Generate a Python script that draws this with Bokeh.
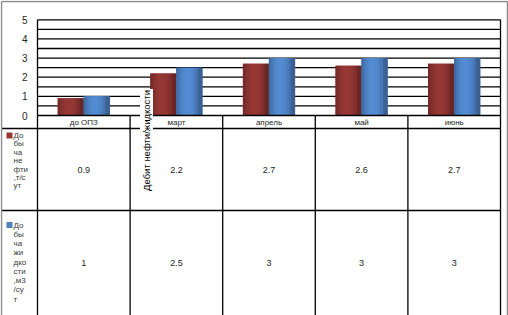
import math
import numpy as np
from bokeh.plotting import figure
from bokeh.models import Range1d
from bokeh.core.properties import value
from bokeh.embed import file_html
from bokeh.resources import INLINE

# ---------------- data ----------------
categories = ["до ОПЗ", "март", "апрель", "май", "июнь"]
oil_values = [0.9, 2.2, 2.7, 2.6, 2.7]        # Добыча нефти, т/сут
liquid_values = [1, 2.5, 3, 3, 3]             # Добыча жидкости, м3/сут
series_names = ["Добыча нефти,т/сут", "Добыча жидкости,м3/сут"]
series_wrapped = [["До", "бы", "ча", "не", "фти", ",т/с", "ут"],
                  ["До", "бы", "ча", "жи", "дко", "сти", ",м3", "/су", "т"]]
y_ticks = [0, 1, 2, 3, 4, 5]
y_title = "Дебит нефти/жидкости"

# ---------------- layout constants (pixels) ----------------
W, H = 508, 315
X0, XW = 37.0, 92.6      # pixel of category axis start, pixels per category
Y0, YU = 115.0, 19.14    # pixel of value 0, pixels per unit
ROW1_TOP, ROW2_TOP, TBL_BOTTOM = 128.0, 210.0, 316.0

def px2x(px):
    return (px - X0) / XW

def py2y(py):
    return (Y0 - py) / YU

FONT = value("Liberation Sans")
TXT = "#262626"

p = figure(width=W, height=H,
           x_range=Range1d(px2x(0), px2x(W)), y_range=Range1d(py2y(H), py2y(0)),
           output_backend="svg", toolbar_location=None, min_border=0,
           x_axis_location=None, y_axis_location=None)
p.grid.visible = False
p.outline_line_color = None
p.background_fill_color = "white"
p.border_fill_color = "white"

n = len(categories)

# ---------------- gridlines (every 0.5) ----------------
grid_vals = np.arange(0.5, 5.01, 0.5)
p.segment(x0=[0] * len(grid_vals), x1=[n] * len(grid_vals), y0=grid_vals, y1=grid_vals,
          line_color="black", line_width=1.3)

# ---------------- bars with horizontal shading ----------------
def shade(rgb, t):
    f = 0.74 + 0.34 * math.sin(math.pi * min(1.0, t * 1.12)) ** 0.7
    r, g, b = [min(255, int(c * f)) for c in rgb]
    return "#%02x%02x%02x" % (r, g, b)

base_colors = [(140, 52, 50), (78, 130, 196)]
bw = 0.28
nsl = 13
for s, vals in enumerate([oil_values, liquid_values]):
    off = (-0.5 if s == 0 else 0.5) * bw
    centers = [i + 0.5 + off for i in range(n)]
    p.vbar(x=centers, top=vals, bottom=0, width=bw, fill_color=shade(base_colors[s], 0.5),
           line_color=None)
    xs, tops, cols = [], [], []
    for i, v in enumerate(vals):
        left = centers[i] - bw / 2
        for k in range(nsl):
            t = (k + 0.5) / nsl
            xs.append(left + t * bw)
            tops.append(v)
            cols.append(shade(base_colors[s], t))
    p.vbar(x=xs, top=tops, bottom=0, width=bw / nsl * 1.25, fill_color=cols, line_color=None)

# ---------------- plot frame / table lines ----------------
p.segment(x0=[0], x1=[n], y0=[0], y1=[0], line_color="black", line_width=1.3)
p.segment(x0=[px2x(1)] * 2, x1=[n] * 2, y0=[py2y(ROW1_TOP), py2y(ROW2_TOP)],
          y1=[py2y(ROW1_TOP), py2y(ROW2_TOP)], line_color="black", line_width=1.3)
vx = list(range(n + 1))
vtop = [5 if (i == 0 or i == n) else 0 for i in vx]
p.segment(x0=vx, x1=vx, y0=vtop, y1=[py2y(TBL_BOTTOM)] * len(vx),
          line_color="black", line_width=1.3)

# outer chart border (gray)
p.segment(x0=[px2x(1), px2x(1), px2x(W - 1)], x1=[px2x(1), px2x(W - 1), px2x(W - 1)],
          y0=[py2y(H), py2y(1), py2y(1)], y1=[py2y(1), py2y(1), py2y(H)],
          line_color="#8c8c8c", line_width=1.5)

# ---------------- y tick labels ----------------
p.text(x=[px2x(27)] * len(y_ticks), y=y_ticks, text=[str(t) for t in y_ticks],
       text_align="right", text_baseline="middle", text_font=FONT,
       text_font_size="10px", text_color=TXT)

# ---------------- category labels ----------------
cx = [i + 0.5 for i in range(n)]
p.text(x=cx, y=[py2y(121.5)] * n, text=categories, text_align="center",
       text_baseline="middle", text_font=FONT, text_font_size="8px", text_color=TXT)

# ---------------- table values ----------------
def fmt(v):
    return ("%g" % v)

p.text(x=cx, y=[py2y(169)] * n, text=[fmt(v) for v in oil_values], text_align="center",
       text_baseline="middle", text_font=FONT, text_font_size="9px", text_color=TXT)
p.text(x=cx, y=[py2y(262)] * n, text=[fmt(v) for v in liquid_values], text_align="center",
       text_baseline="middle", text_font=FONT, text_font_size="9px", text_color=TXT)

# ---------------- legend keys + wrapped series names ----------------
key_colors = ["#953735", "#4f81bd"]
first_line = [135.0, 224.5]
spacing = [8.4, 9.25]
for s in range(2):
    p.scatter(x=[px2x(9)], y=[py2y(first_line[s])], marker="square", size=6,
              fill_color=key_colors[s], line_color=None)
    lines = series_wrapped[s]
    ys = [py2y(first_line[s] + j * spacing[s]) for j in range(len(lines))]
    p.text(x=[px2x(13)] * len(lines), y=ys, text=lines, text_align="left",
           text_baseline="middle", text_font=FONT, text_font_size="8px", text_color="#3a3a3a")

# ---------------- axis title (rotated, with white background) ----------------
p.text(x=[px2x(146)], y=[py2y(140)], text=[y_title], angle=math.pi / 2,
       text_align="center", text_baseline="middle", text_font=FONT,
       text_font_size="9.5px", text_color="black",
       background_fill_color="white", padding=1)

open("out.html", "w").write(file_html(p, INLINE))
